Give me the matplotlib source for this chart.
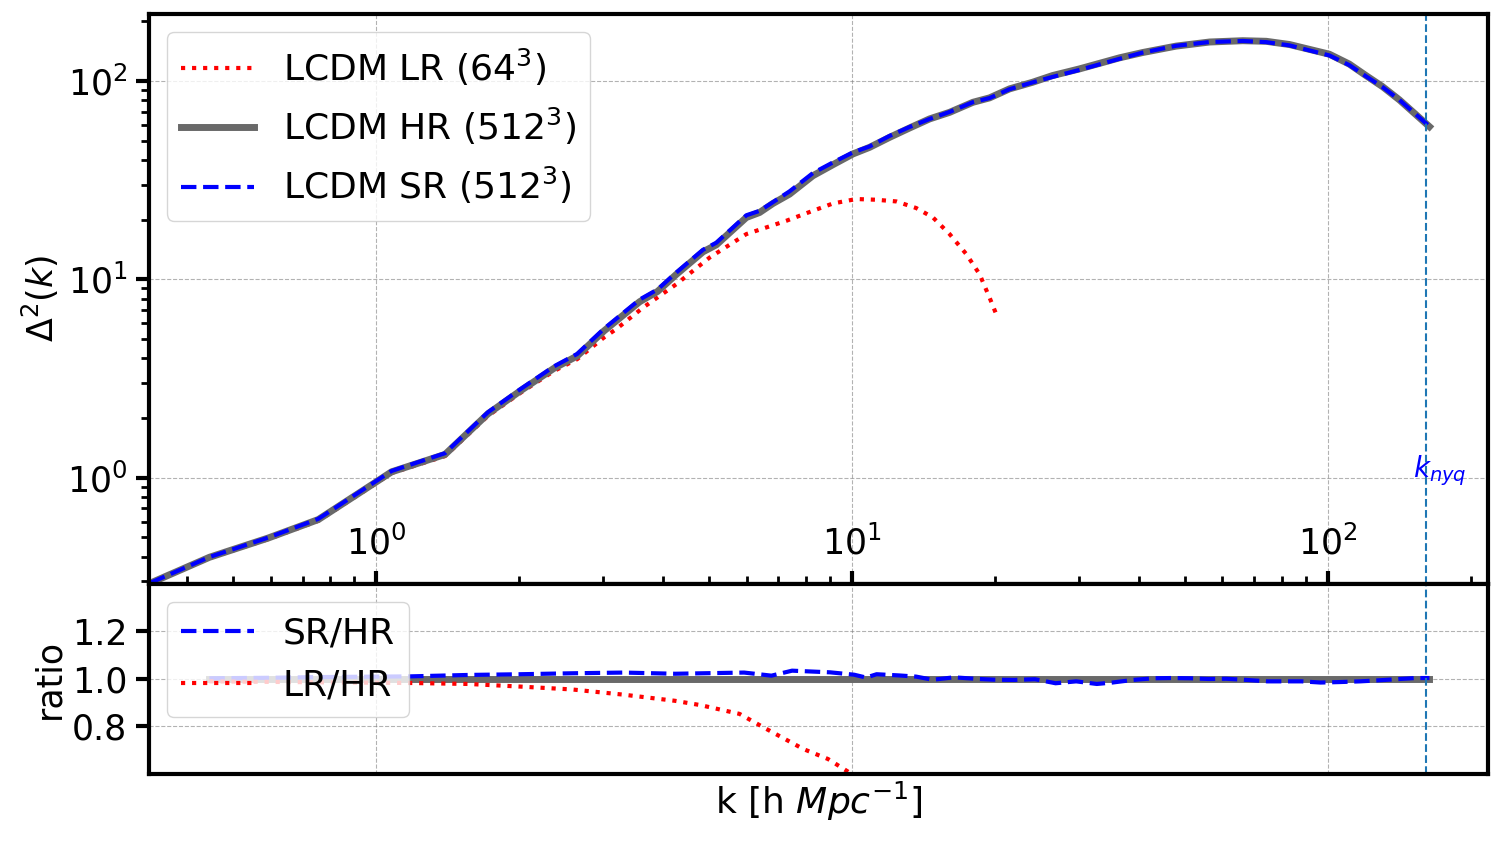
import numpy as np
import matplotlib
matplotlib.use("Agg")
import matplotlib.pyplot as plt

# power spectrum, HR (512^3) -- SR curve sits on top of it
k_hr = [0.3354, 0.446, 0.5934, 0.7556, 1.005, 1.077, 1.395, 1.717, 2.006, 2.363,
        2.644, 3.010, 3.578, 3.903, 4.273, 4.860, 5.185, 5.995, 6.393, 6.818,
        7.391, 8.273, 9.114, 10.04, 10.88, 11.99, 13.21, 14.55, 16.03, 17.94,
        19.45, 21.42, 23.94, 26.38, 30.06, 36.48, 40.8, 47.98, 56.4, 66.22,
        74.18, 83.0, 100.7, 110.9, 120.3, 130.2, 141.3, 163.4]
d_hr = [0.2942, 0.3967, 0.4966, 0.615, 0.96, 1.07, 1.31, 2.10, 2.735, 3.561,
        4.108, 5.495, 7.717, 8.698, 10.60, 13.77, 14.94, 20.52, 21.75, 24.14,
        26.93, 33.32, 37.87, 42.90, 46.31, 52.03, 58.02, 64.44, 69.56, 78.15,
        82.28, 91.33, 98.6, 106.6, 115.2, 131.0, 139.3, 150.1, 157.4, 159.8,
        158.7, 152.9, 136.6, 121.8, 106.5, 93.8, 80.4, 58.9]

# SR ratio to HR, used to get the SR curve
k_sr = [0.446, 0.5934, 0.7556, 1.005, 1.178, 1.564, 2.007, 2.577, 3.308, 4.248,
        5.93, 6.77, 7.48, 8.99, 10.1, 10.7, 11.26, 12.54, 13.63, 14.57, 14.82,
        16.37, 18.10, 19.83, 21.92, 24.23, 26.77, 29.58, 32.68, 35.23, 38.94,
        43.03, 46.77, 51.26, 56.19, 61.06, 67.45, 74.57, 81.04, 88.07, 96.5,
        105.8, 116.9, 127.1, 139.2, 152.6, 163.4]
r_sr = [1.003, 1.005, 1.008, 1.01, 1.011, 1.017, 1.02, 1.024, 1.027, 1.022,
        1.027, 1.014, 1.035, 1.028, 1.018, 1.006, 1.02, 1.015, 1.01, 0.999, 0.997,
        1.007, 1.001, 0.997, 0.996, 0.999, 0.982, 0.990, 0.979, 0.985, 0.996,
        1.003, 1.004, 1.003, 1.0, 1.001, 0.996, 0.990, 0.990, 0.990, 0.985,
        0.987, 0.990, 0.994, 0.999, 1.004, 1.004]

# LR (64^3)
k_lr = [0.3354, 0.446, 0.5934, 0.7556, 1.005, 1.077, 1.395, 1.717, 2.006, 2.363,
        2.644, 3.006, 3.196, 3.635, 4.273, 5.020, 5.995, 7.275, 8.273, 9.114,
        10.20, 11.24, 12.39, 13.64, 14.79, 16.03, 17.38, 18.53, 19.45, 20.09]
d_lr = [0.294, 0.393, 0.490, 0.606, 0.945, 1.055, 1.285, 2.05, 2.67, 3.45,
        3.96, 5.08, 5.62, 7.20, 9.46, 12.89, 16.92, 19.75, 22.18, 24.14,
        25.42, 25.21, 24.72, 22.89, 20.52, 16.92, 13.41, 10.62, 8.09, 6.67]

# LR / HR ratio
k_rlr = [0.446, 0.7556, 1.198, 1.564, 2.007, 2.577, 3.308, 4.248, 4.8, 5.8,
         6.6, 7.9, 8.9, 9.8, 10.3]
r_lr = [0.99, 0.986, 0.983, 0.979, 0.968, 0.956, 0.934, 0.908, 0.89, 0.853,
        0.79, 0.705, 0.663, 0.61, 0.58]

k_nyq = 160.85

fs = 25
plt.rcParams['font.size'] = fs
plt.rcParams['axes.linewidth'] = 3

fig = plt.figure(figsize=(15.02, 8.41), dpi=100)
ax = fig.add_axes([0.0992, 0.3056, 0.8915, 0.6778])
ax2 = fig.add_axes([0.0992, 0.0797, 0.8915, 0.2259], sharex=ax)

k_hr = np.array(k_hr)
d_hr = np.array(d_hr)
d_sr = d_hr * np.interp(np.log(k_hr), np.log(k_sr), r_sr)

ax.plot(k_lr, d_lr, ':', color='red', lw=3, label=r'LCDM LR ($64^3$)')
ax.plot(k_hr, d_hr, '-', color='dimgray', lw=5, label=r'LCDM HR ($512^3$)')
ax.plot(k_hr, d_sr, '--', color='blue', lw=3, label=r'LCDM SR ($512^3$)')
ax.axvline(k_nyq, ls='--', color='tab:blue', lw=1.5)
ax.text(k_nyq * 0.94, 1.0, r'$k_{nyq}$', color='blue', fontsize=20)

ax.set_xscale('log')
ax.set_yscale('log')
ax.set_xlim(0.333, 217)
ax.set_ylim(0.291, 218)
ax.set_ylabel(r'$\Delta^2(k)$')
ax.grid(True, which='major', ls='--', lw=0.8, color='gray', alpha=0.6)
ax.tick_params(axis='x', which='both', direction='in', pad=-42)
ax.tick_params(axis='x', which='major', length=9.5, width=3)
ax.tick_params(axis='x', which='minor', length=6, width=2)
ax.tick_params(axis='y', which='major', length=9.5, width=3, pad=6)
ax.tick_params(axis='y', which='minor', length=6, width=2)
ax.legend(loc='upper left', fontsize=26)

hr_sel = k_hr >= 0.44
ax2.plot(k_hr[hr_sel], d_hr[hr_sel] / d_hr[hr_sel], '-', color='dimgray', lw=5)
ax2.plot(k_sr, r_sr, '--', color='blue', lw=3, label='SR/HR')
ax2.plot(k_rlr, r_lr, ':', color='red', lw=3, label='LR/HR')
ax2.axvline(k_nyq, ls='--', color='tab:blue', lw=1.5)
ax2.set_ylim(0.6, 1.4)
ax2.set_yticks([0.8, 1.0, 1.2])
ax2.set_ylabel('ratio')
ax2.set_xlabel(r'k [h $Mpc^{-1}$]', fontsize=26)
ax2.grid(True, which='major', ls='--', lw=0.8, color='gray', alpha=0.6)
ax2.tick_params(axis='x', which='both', length=0, labelbottom=False)
ax2.tick_params(axis='y', which='major', length=9.5, width=3, pad=6)
ax2.legend(loc='upper left', fontsize=26)

fig.savefig('out.png', dpi=100)
